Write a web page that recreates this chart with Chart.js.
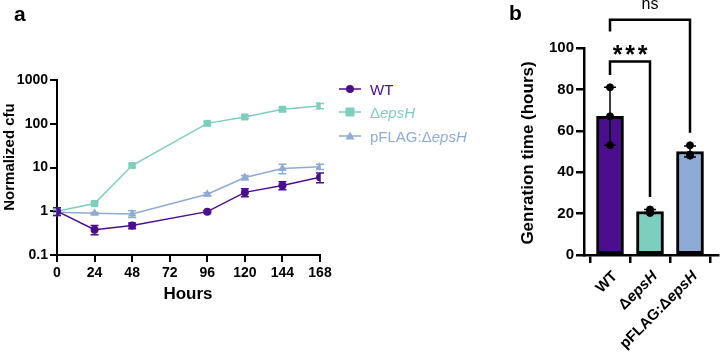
<!DOCTYPE html>
<html>
<head>
<meta charset="utf-8">
<script src="https://cdn.jsdelivr.net/npm/chart.js@4.4.1/dist/chart.umd.min.js"></script>
<style>
  body { margin: 0; background: #fff; font-family: "Liberation Sans", Arial, sans-serif; }
  #wrap { position: relative; width: 723px; height: 356px; overflow: hidden; }
  canvas { position: absolute; top: 0; }
  .panel { position: absolute; font-weight: bold; font-size: 21px; line-height: 1; }
  .item { position: absolute; left: 339px; height: 20px; display: flex; align-items: center; font-size: 15px; }
  .item svg { margin-right: 9px; }
</style>
</head>
<body>
<div id="wrap">
  <canvas id="chartA" width="340" height="356" style="left:0"></canvas>
  <canvas id="chartB" width="243" height="356" style="left:480px"></canvas>
  <div class="panel" style="left:14px;top:3px">a</div>
  <div class="panel" style="left:509px;top:2px">b</div>
  <div id="legend"></div>
</div>
<script>
// ---- panel a data: normalized cfu over time ----
const hours = [0, 24, 48, 96, 120, 144, 168];
const hourTicks = [0, 24, 48, 72, 96, 120, 144, 168];
const cfuTicks = [0.1, 1, 10, 100, 1000];

const wtCfu = [1.0, 0.38, 0.47, 0.98, 2.7, 3.9, 6.0];
const wtCfuErr = [0.2, 0.09, 0.07, 0.05, 0.55, 0.8, 1.5];
const epsCfu = [1.0, 1.5, 11.1, 102, 143, 214, 256];
const epsCfuErr = [0.08, 0.1, 0.8, 8, 12, 22, 35];
const pflagCfu = [0.95, 0.9, 0.87, 2.45, 5.9, 9.5, 10.4];
const pflagCfuErr = [0.15, 0.04, 0.15, 0.2, 0.7, 2.3, 1.4];

// ---- panel b data: generation time ----
const strains = ['WT', 'ΔepsH', 'pFLAG:ΔepsH'];
const genMean = [67, 21, 50];
const genSD = [14, 1, 2.7];
const genReps = [[81, 67, 53], [22, 20.5, 20.3], [53, 48.5, 48]];
const genTicks = [0, 20, 40, 60, 80, 100];

const PURPLE = '#4b0e8e', TEAL = '#7dcfbd', BLUE = '#8eabd7';
const FONT = '"Liberation Sans", Arial, sans-serif';

// split a strain name so that "epsH" is set in italics
function segments(name) {
  const i = name.indexOf('epsH');
  if (i < 0) return [{ t: name, it: false }];
  return [{ t: name.slice(0, i), it: false }, { t: 'epsH', it: true }, { t: name.slice(i + 4), it: false }]
    .filter(s => s.t.length);
}

// legend (html)
const legendItems = [
  { name: 'WT', color: PURPLE, marker: 'circle', top: 79 },
  { name: 'ΔepsH', color: TEAL, marker: 'rect', top: 102 },
  { name: 'pFLAG:ΔepsH', color: BLUE, marker: 'triangle', top: 126 }
];
const legend = document.getElementById('legend');
legendItems.forEach(it => {
  let mk = '';
  if (it.marker === 'circle') mk = `<circle cx="11" cy="6" r="4" fill="${it.color}"/>`;
  if (it.marker === 'rect') mk = `<rect x="6.5" y="1.5" width="9" height="9" fill="${it.color}"/>`;
  if (it.marker === 'triangle') mk = `<polygon points="11,1.5 15.5,9.5 6.5,9.5" fill="${it.color}"/>`;
  const div = document.createElement('div');
  div.className = 'item';
  div.style.top = it.top + 'px';
  div.style.color = it.color;
  div.innerHTML = `<svg width="22" height="12"><line x1="0" y1="6" x2="22" y2="6" stroke="${it.color}" stroke-width="1.5"/>${mk}</svg>` +
    segments(it.name).map(s => s.it ? `<i>${s.t}</i>` : s.t).join('');
  legend.appendChild(div);
});

// ---- panel a ----
const errPlugin = {
  id: 'errA',
  beforeDatasetDraw(chart, args) {
    const ds = chart.data.datasets[args.index];
    const x = chart.scales.x, y = chart.scales.y, ctx = chart.ctx;
    ctx.save();
    ctx.strokeStyle = ds.borderColor;
    ctx.lineWidth = 1.5;
    ds.err.forEach((e, i) => {
      const px = x.getPixelForValue(hours[i]);
      const m = ds.data[i].y;
      const t = y.getPixelForValue(m + e), b = y.getPixelForValue(m - e);
      ctx.beginPath();
      ctx.moveTo(px, t); ctx.lineTo(px, b);
      ctx.moveTo(px - 4, t); ctx.lineTo(px + 4, t);
      ctx.moveTo(px - 4, b); ctx.lineTo(px + 4, b);
      ctx.stroke();
    });
    ctx.restore();
  },
  afterDraw(chart) {
    const ctx = chart.ctx;
    ctx.save();
    ctx.fillStyle = '#000';
    ctx.font = 'bold 17px ' + FONT;
    ctx.textAlign = 'center';
    ctx.textBaseline = 'middle';
    ctx.fillText('Hours', 188, 294);
    ctx.translate(10, 157);
    ctx.rotate(-Math.PI / 2);
    ctx.font = 'bold 15px ' + FONT;
    ctx.fillText('Normalized cfu', 0, 0);
    ctx.restore();
  }
};

function series(vals, errs, color, style, radius) {
  return {
    data: hours.map((h, i) => ({ x: h, y: vals[i] })),
    err: errs,
    borderColor: color, backgroundColor: color,
    borderWidth: 1.5, pointStyle: style, pointRadius: radius,
    pointBorderWidth: 0, tension: 0
  };
}

new Chart(document.getElementById('chartA'), {
  type: 'line',
  data: {
    datasets: [
      series(wtCfu, wtCfuErr, PURPLE, 'circle', 4),
      series(epsCfu, epsCfuErr, TEAL, 'rect', 5),
      series(pflagCfu, pflagCfuErr, BLUE, 'triangle', 5)
    ]
  },
  options: {
    responsive: false,
    animation: false,
    layout: { padding: { top: 80, right: 20, bottom: 71, left: 0 } },
    plugins: { legend: { display: false }, tooltip: { enabled: false } },
    scales: {
      x: {
        type: 'linear', min: 0, max: 168,
        afterBuildTicks: s => { s.ticks = hourTicks.map(v => ({ value: v })); },
        afterFit: s => { s.height = 30; },
        ticks: { color: '#000', font: { family: FONT, size: 14, weight: 'bold' }, padding: 3, maxRotation: 0 },
        grid: { drawOnChartArea: false, tickLength: 7, color: '#000', lineWidth: 2 },
        border: { color: '#000', width: 2 }
      },
      y: {
        type: 'logarithmic', min: 0.1, max: 1000,
        afterBuildTicks: s => { s.ticks = cfuTicks.map(v => ({ value: v })); },
        afterFit: s => { s.width = 57; },
        ticks: { color: '#000', font: { family: FONT, size: 14, weight: 'bold' }, padding: 2, callback: v => String(v) },
        grid: { drawOnChartArea: false, tickLength: 7, color: '#000', lineWidth: 2 },
        border: { color: '#000', width: 2 }
      }
    }
  },
  plugins: [errPlugin]
});

// ---- panel b ----
const barPlugin = {
  id: 'barB',
  afterDatasetDraw(chart, args) {
    if (args.index !== 0) return;
    const x = chart.scales.x, y = chart.scales.y, ctx = chart.ctx;
    ctx.save();
    ctx.strokeStyle = '#000';
    ctx.lineWidth = 1.5;
    genMean.forEach((m, i) => {
      const px = x.getPixelForValue(i);
      const t = y.getPixelForValue(m + genSD[i]), b = y.getPixelForValue(m - genSD[i]);
      ctx.beginPath();
      ctx.moveTo(px, t); ctx.lineTo(px, b);
      ctx.moveTo(px - 6, t); ctx.lineTo(px + 6, t);
      ctx.moveTo(px - 6, b); ctx.lineTo(px + 6, b);
      ctx.stroke();
    });
    ctx.restore();
  },
  afterDraw(chart) {
    const x = chart.scales.x, y = chart.scales.y, ctx = chart.ctx;
    ctx.save();
    ctx.fillStyle = '#000';
    ctx.strokeStyle = '#000';
    // rotated category labels
    ctx.textBaseline = 'middle';
    strains.forEach((s, i) => {
      const segs = segments(s);
      ctx.save();
      ctx.translate(x.getPixelForValue(i) + 5, y.bottom + 19);
      ctx.rotate(-Math.PI / 4);
      const fonts = segs.map(sg => (sg.it ? 'italic ' : '') + 'bold 15px ' + FONT);
      const widths = segs.map((sg, k) => { ctx.font = fonts[k]; return ctx.measureText(sg.t).width; });
      let cx = -widths.reduce((a, b) => a + b, 0);
      segs.forEach((sg, k) => { ctx.font = fonts[k]; ctx.fillText(sg.t, cx, 0); cx += widths[k]; });
      ctx.restore();
    });
    // y title
    ctx.save();
    ctx.translate(48, 153);
    ctx.rotate(-Math.PI / 2);
    ctx.textAlign = 'center';
    ctx.font = 'bold 17px ' + FONT;
    ctx.fillText('Genration time (hours)', 0, 0);
    ctx.restore();
    // significance brackets
    ctx.lineWidth = 2.5;
    const bracket = (a, b, top, legA, legB) => {
      const xa = x.getPixelForValue(a), xb = x.getPixelForValue(b);
      ctx.beginPath();
      ctx.moveTo(xa, y.getPixelForValue(legA));
      ctx.lineTo(xa, y.getPixelForValue(top));
      ctx.lineTo(xb, y.getPixelForValue(top));
      ctx.lineTo(xb, y.getPixelForValue(legB));
      ctx.stroke();
    };
    bracket(0, 1, 93.5, 87, 28);
    bracket(0, 2, 113.7, 108, 59);
    ctx.textAlign = 'center';
    ctx.textBaseline = 'alphabetic';
    ctx.font = 'bold 25px ' + FONT;
    const mid = (x.getPixelForValue(0) + x.getPixelForValue(1)) / 2;
    [-12.5, 0, 12.5].forEach(dx => ctx.fillText('*', mid + dx, 63));
    ctx.font = '16px ' + FONT;
    ctx.fillText('ns', (x.getPixelForValue(0) + x.getPixelForValue(2)) / 2, 9);
    ctx.restore();
  }
};

new Chart(document.getElementById('chartB'), {
  data: {
    datasets: [
      {
        type: 'bar',
        data: genMean.map((m, i) => ({ x: i, y: m })),
        backgroundColor: [PURPLE, TEAL, BLUE],
        borderColor: '#000', borderWidth: 3, borderSkipped: false,
        barThickness: 27, order: 2
      },
      {
        type: 'scatter',
        data: genReps.flatMap((r, i) => r.map(v => ({ x: i, y: v }))),
        backgroundColor: '#000', borderColor: '#000', pointRadius: 3.5, order: 1
      }
    ]
  },
  options: {
    responsive: false,
    animation: false,
    layout: { padding: { top: 48, right: 0, bottom: 71, left: 0 } },
    plugins: { legend: { display: false }, tooltip: { enabled: false } },
    scales: {
      x: {
        type: 'linear', min: -0.65, max: 2.7, offset: false,
        afterBuildTicks: s => { s.ticks = strains.map((_, i) => ({ value: i })); },
        afterFit: s => { s.height = 30; },
        ticks: { callback: () => '' },
        grid: { drawOnChartArea: false, tickLength: 8, color: '#000', lineWidth: 2.5 },
        border: { color: '#000', width: 2.5 }
      },
      y: {
        min: 0, max: 100,
        afterBuildTicks: s => { s.ticks = genTicks.map(v => ({ value: v })); },
        afterFit: s => { s.width = 104; },
        ticks: { color: '#000', font: { family: FONT, size: 15, weight: 'bold' }, padding: 2 },
        grid: { drawOnChartArea: false, tickLength: 8, color: '#000', lineWidth: 2.5 },
        border: { color: '#000', width: 2.5 }
      }
    }
  },
  plugins: [barPlugin]
});
</script>
</body>
</html>
